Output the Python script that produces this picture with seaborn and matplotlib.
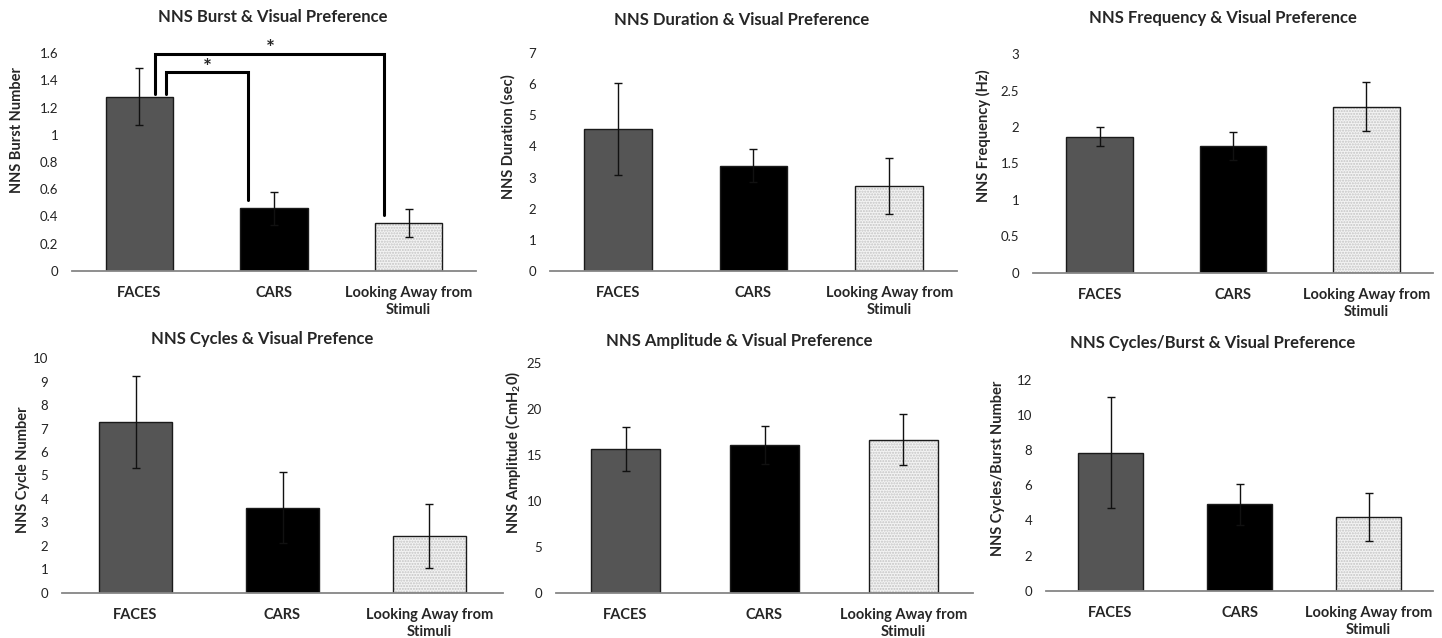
import numpy as np
import pandas as pd
import matplotlib
matplotlib.use("Agg")
import matplotlib.pyplot as plt
import matplotlib.colors as mcolors
import seaborn as sns

sns.set_theme(style="white")
plt.rcParams["font.family"] = ["Lato", "DejaVu Sans"]
plt.rcParams["mathtext.fontset"] = "custom"
plt.rcParams["mathtext.bf"] = "Lato:bold"
plt.rcParams["mathtext.rm"] = "Lato:bold"
plt.rcParams["hatch.linewidth"] = 1.0

categories = ["FACES", "CARS", "Looking Away from\nStimuli"]

titles = [
    "NNS Burst & Visual Preference",
    "NNS Duration & Visual Preference",
    "NNS Frequency & Visual Preference",
    "NNS Cycles & Visual Prefence",
    "NNS Amplitude & Visual Preference",
    "NNS Cycles/Burst & Visual Preference",
]
ylabels = [
    "NNS Burst Number",
    "NNS Duration (sec)",
    "NNS Frequency (Hz)",
    "NNS Cycle Number",
    "NNS Amplitude (CmH$_2$0)",
    "NNS Cycles/Burst Number",
]

burst_mean = [1.28, 0.46, 0.35]
burst_err = [0.21, 0.12, 0.105]
duration_mean = [4.55, 3.38, 2.73]
duration_err = [1.48, 0.54, 0.91]
freq_mean = [1.87, 1.74, 2.28]
freq_err = [0.125, 0.19, 0.34]
cycles_mean = [7.30, 3.63, 2.42]
cycles_err = [1.96, 1.52, 1.37]
amp_mean = [15.65, 16.05, 16.65]
amp_err = [2.38, 2.07, 2.77]
cpb_mean = [7.86, 4.92, 4.21]
cpb_err = [3.15, 1.16, 1.38]

means = [burst_mean, duration_mean, freq_mean, cycles_mean, amp_mean, cpb_mean]
errs = [burst_err, duration_err, freq_err, cycles_err, amp_err, cpb_err]
yticks = [
    [0, 0.2, 0.4, 0.6, 0.8, 1, 1.2, 1.4, 1.6],
    [0, 1, 2, 3, 4, 5, 6, 7],
    [0, 0.5, 1, 1.5, 2, 2.5, 3],
    [0, 1, 2, 3, 4, 5, 6, 7, 8, 9, 10],
    [0, 5, 10, 15, 20, 25],
    [0, 2, 4, 6, 8, 10, 12],
]

# significance brackets for the burst panel: (x_left, x_right, y_left, y_top, y_right)
brackets = [(0.196, 0.81, 1.30, 1.46, 0.52), (0.12, 1.82, 1.30, 1.592, 0.41)]
star_y = [1.49, 1.635]

bar_colors = ["#555555", "#000000", "#f3f3f3"]

W, H = 1442, 638
fig = plt.figure(figsize=(W / 100, H / 100), dpi=100)

# pixel boxes (left, right, top, bottom) of each plot area
boxes = [
    (72, 476, 53.3, 270.7), (550, 957, 53.3, 270.7), (1033, 1433, 54.3, 272.7),
    (62, 503, 358.3, 592.7), (556, 973, 362.7, 592.7), (1046, 1433, 380, 590.7),
]
title_pos = [(273, 17), (742, 20), (1223, 18), (262, 339), (739, 341), (1213, 343)]
ylabel_pos = [(17, 130), (508, 137), (983, 136), (23, 470), (513, 452), (998, 468)]

for i in range(6):
    l, r, t, b = boxes[i]
    ax = fig.add_axes([l / W, 1 - b / H, (r - l) / W, (b - t) / H])
    df = pd.DataFrame({"cat": categories, "val": means[i]})
    sns.barplot(data=df, x="cat", y="val", hue="cat", palette=bar_colors,
                width=0.5, edgecolor="#1a1a1a", linewidth=1.0, legend=False,
                saturation=1, ax=ax)
    p = ax.patches[2]
    p.set_hatch("......")
    p._hatch_color = mcolors.to_rgba("#c4c4c4")
    ax.errorbar(range(3), means[i], yerr=errs[i], fmt="none", ecolor="#111111",
                elinewidth=1.0, capsize=3, capthick=1.0)
    ax.set_xlim(-0.5, 2.5)
    ax.set_ylim(0, yticks[i][-1])
    ax.set_yticks(yticks[i])
    ax.set_yticklabels([("%g" % v) for v in yticks[i]], fontsize=9.5, color="#222222")
    ax.set_xticks(range(3))
    ax.set_xticklabels(categories, fontsize=10.5, fontweight="bold", linespacing=1.3)
    ax.tick_params(axis="x", length=0, pad=11)
    ax.tick_params(axis="y", length=0, pad=10)
    ax.set_xlabel("")
    ax.set_ylabel(ylabels[i], fontsize=10.5, fontweight="bold")
    ax.yaxis.set_label_coords(ylabel_pos[i][0] / W, 1 - ylabel_pos[i][1] / H,
                              transform=fig.transFigure)
    ax.yaxis.label.set_va("center")
    for s in ["top", "right", "left"]:
        ax.spines[s].set_visible(False)
    ax.spines["bottom"].set_color("#868686")
    ax.spines["bottom"].set_linewidth(1.3)
    fig.text(title_pos[i][0] / W, 1 - title_pos[i][1] / H, titles[i],
             ha="center", va="center", fontsize=12, fontweight="bold")

    if i == 0:
        for (xl, xr, yl, yt, yr), sy in zip(brackets, star_y):
            ax.plot([xl, xl, xr, xr], [yl, yt, yt, yr], color="black", lw=2.2,
                    solid_joinstyle="miter", clip_on=False)
            ax.text((xl + xr) / 2, sy, "*", ha="center", va="center",
                    fontsize=15, fontweight="bold")

fig.savefig("out.png", dpi=100)
